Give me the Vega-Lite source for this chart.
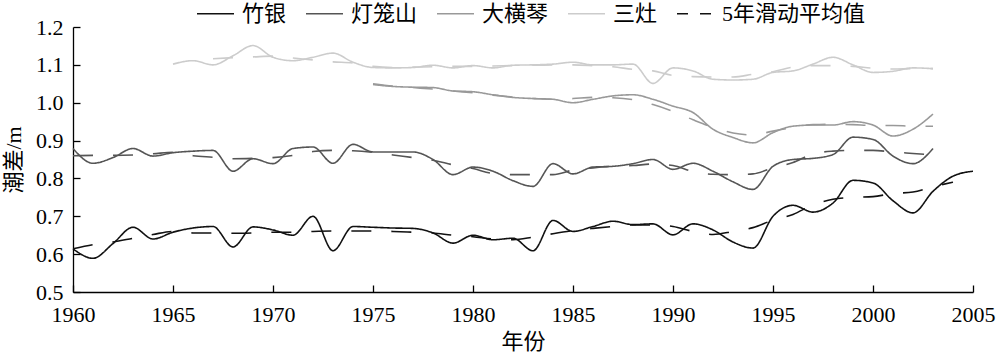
{
  "$schema": "https://vega.github.io/schema/vega-lite/v6.json",
  "width": 900,
  "height": 265,
  "autosize": {"type": "none"},
  "padding": {"left": 73, "top": 27, "right": 27, "bottom": 66},
  "background": "#ffffff",
  "config": {
    "view": {"stroke": null},
    "axis": {
      "domainColor": "#000", "tickColor": "#000", "labelColor": "#000", "titleColor": "#000",
      "labelFont": "Liberation Serif", "labelFontSize": 22,
      "titleFont": "Liberation Serif, Noto Sans CJK SC", "titleFontSize": 22, "titleFontWeight": "normal",
      "grid": false, "tickSize": -7, "domainWidth": 1.3, "tickWidth": 1.3
    }
  },
  "datasets": {
    "d": [
      {"y":1960,"s":"竹银","t":"raw","v":0.614},{"y":1961,"s":"竹银","t":"raw","v":0.589},{"y":1962,"s":"竹银","t":"raw","v":0.628},{"y":1963,"s":"竹银","t":"raw","v":0.671},{"y":1964,"s":"竹银","t":"raw","v":0.64},{"y":1965,"s":"竹银","t":"raw","v":0.658},{"y":1966,"s":"竹银","t":"raw","v":0.669},{"y":1967,"s":"竹银","t":"raw","v":0.673},{"y":1968,"s":"竹银","t":"raw","v":0.619},{"y":1969,"s":"竹银","t":"raw","v":0.672},{"y":1970,"s":"竹银","t":"raw","v":0.664},{"y":1971,"s":"竹银","t":"raw","v":0.65},{"y":1972,"s":"竹银","t":"raw","v":0.70},{"y":1973,"s":"竹银","t":"raw","v":0.609},{"y":1974,"s":"竹银","t":"raw","v":0.673},{"y":1975,"s":"竹银","t":"raw","v":0.671},{"y":1976,"s":"竹银","t":"raw","v":0.669},{"y":1977,"s":"竹银","t":"raw","v":0.668},{"y":1978,"s":"竹银","t":"raw","v":0.656},{"y":1979,"s":"竹银","t":"raw","v":0.629},{"y":1980,"s":"竹银","t":"raw","v":0.65},{"y":1981,"s":"竹银","t":"raw","v":0.638},{"y":1982,"s":"竹银","t":"raw","v":0.642},{"y":1983,"s":"竹银","t":"raw","v":0.609},{"y":1984,"s":"竹银","t":"raw","v":0.689},{"y":1985,"s":"竹银","t":"raw","v":0.66},{"y":1986,"s":"竹银","t":"raw","v":0.673},{"y":1987,"s":"竹银","t":"raw","v":0.687},{"y":1988,"s":"竹银","t":"raw","v":0.678},{"y":1989,"s":"竹银","t":"raw","v":0.68},{"y":1990,"s":"竹银","t":"raw","v":0.651},{"y":1991,"s":"竹银","t":"raw","v":0.68},{"y":1992,"s":"竹银","t":"raw","v":0.664},{"y":1993,"s":"竹银","t":"raw","v":0.632},{"y":1994,"s":"竹银","t":"raw","v":0.616},{"y":1995,"s":"竹银","t":"raw","v":0.70},{"y":1996,"s":"竹银","t":"raw","v":0.729},{"y":1997,"s":"竹银","t":"raw","v":0.711},{"y":1998,"s":"竹银","t":"raw","v":0.735},{"y":1999,"s":"竹银","t":"raw","v":0.795},{"y":2000,"s":"竹银","t":"raw","v":0.788},{"y":2001,"s":"竹银","t":"raw","v":0.741},{"y":2002,"s":"竹银","t":"raw","v":0.709},{"y":2003,"s":"竹银","t":"raw","v":0.766},{"y":2004,"s":"竹银","t":"raw","v":0.806},{"y":2005,"s":"竹银","t":"raw","v":0.819},

      {"y":1960,"s":"灯笼山","t":"raw","v":0.879},{"y":1961,"s":"灯笼山","t":"raw","v":0.84},{"y":1962,"s":"灯笼山","t":"raw","v":0.855},{"y":1963,"s":"灯笼山","t":"raw","v":0.879},{"y":1964,"s":"灯笼山","t":"raw","v":0.859},{"y":1965,"s":"灯笼山","t":"raw","v":0.868},{"y":1966,"s":"灯笼山","t":"raw","v":0.872},{"y":1967,"s":"灯笼山","t":"raw","v":0.874},{"y":1968,"s":"灯笼山","t":"raw","v":0.819},{"y":1969,"s":"灯笼山","t":"raw","v":0.852},{"y":1970,"s":"灯笼山","t":"raw","v":0.839},{"y":1971,"s":"灯笼山","t":"raw","v":0.879},{"y":1972,"s":"灯笼山","t":"raw","v":0.883},{"y":1973,"s":"灯笼山","t":"raw","v":0.84},{"y":1974,"s":"灯笼山","t":"raw","v":0.89},{"y":1975,"s":"灯笼山","t":"raw","v":0.87},{"y":1976,"s":"灯笼山","t":"raw","v":0.87},{"y":1977,"s":"灯笼山","t":"raw","v":0.87},{"y":1978,"s":"灯笼山","t":"raw","v":0.85},{"y":1979,"s":"灯笼山","t":"raw","v":0.81},{"y":1980,"s":"灯笼山","t":"raw","v":0.83},{"y":1981,"s":"灯笼山","t":"raw","v":0.819},{"y":1982,"s":"灯笼山","t":"raw","v":0.794},{"y":1983,"s":"灯笼山","t":"raw","v":0.779},{"y":1984,"s":"灯笼山","t":"raw","v":0.839},{"y":1985,"s":"灯笼山","t":"raw","v":0.812},{"y":1986,"s":"灯笼山","t":"raw","v":0.83},{"y":1987,"s":"灯笼山","t":"raw","v":0.832},{"y":1988,"s":"灯笼山","t":"raw","v":0.839},{"y":1989,"s":"灯笼山","t":"raw","v":0.85},{"y":1990,"s":"灯笼山","t":"raw","v":0.824},{"y":1991,"s":"灯笼山","t":"raw","v":0.84},{"y":1992,"s":"灯笼山","t":"raw","v":0.819},{"y":1993,"s":"灯笼山","t":"raw","v":0.791},{"y":1994,"s":"灯笼山","t":"raw","v":0.771},{"y":1995,"s":"灯笼山","t":"raw","v":0.832},{"y":1996,"s":"灯笼山","t":"raw","v":0.85},{"y":1997,"s":"灯笼山","t":"raw","v":0.853},{"y":1998,"s":"灯笼山","t":"raw","v":0.863},{"y":1999,"s":"灯笼山","t":"raw","v":0.909},{"y":2000,"s":"灯笼山","t":"raw","v":0.903},{"y":2001,"s":"灯笼山","t":"raw","v":0.859},{"y":2002,"s":"灯笼山","t":"raw","v":0.839},{"y":2003,"s":"灯笼山","t":"raw","v":0.879},

      {"y":1975,"s":"大横琴","t":"raw","v":1.048},{"y":1976,"s":"大横琴","t":"raw","v":1.043},{"y":1977,"s":"大横琴","t":"raw","v":1.041},{"y":1978,"s":"大横琴","t":"raw","v":1.04},{"y":1979,"s":"大横琴","t":"raw","v":1.031},{"y":1980,"s":"大横琴","t":"raw","v":1.029},{"y":1981,"s":"大横琴","t":"raw","v":1.021},{"y":1982,"s":"大横琴","t":"raw","v":1.014},{"y":1983,"s":"大横琴","t":"raw","v":1.011},{"y":1984,"s":"大横琴","t":"raw","v":1.009},{"y":1985,"s":"大横琴","t":"raw","v":1.0},{"y":1986,"s":"大横琴","t":"raw","v":1.009},{"y":1987,"s":"大横琴","t":"raw","v":1.018},{"y":1988,"s":"大横琴","t":"raw","v":1.021},{"y":1989,"s":"大横琴","t":"raw","v":1.009},{"y":1990,"s":"大横琴","t":"raw","v":0.991},{"y":1991,"s":"大横琴","t":"raw","v":0.974},{"y":1992,"s":"大横琴","t":"raw","v":0.93},{"y":1993,"s":"大横琴","t":"raw","v":0.908},{"y":1994,"s":"大横琴","t":"raw","v":0.894},{"y":1995,"s":"大横琴","t":"raw","v":0.921},{"y":1996,"s":"大横琴","t":"raw","v":0.938},{"y":1997,"s":"大横琴","t":"raw","v":0.941},{"y":1998,"s":"大横琴","t":"raw","v":0.941},{"y":1999,"s":"大横琴","t":"raw","v":0.95},{"y":2000,"s":"大横琴","t":"raw","v":0.941},{"y":2001,"s":"大横琴","t":"raw","v":0.912},{"y":2002,"s":"大横琴","t":"raw","v":0.93},{"y":2003,"s":"大横琴","t":"raw","v":0.97},

      {"y":1965,"s":"三灶","t":"raw","v":1.102},{"y":1966,"s":"三灶","t":"raw","v":1.111},{"y":1967,"s":"三灶","t":"raw","v":1.10},{"y":1968,"s":"三灶","t":"raw","v":1.124},{"y":1969,"s":"三灶","t":"raw","v":1.151},{"y":1970,"s":"三灶","t":"raw","v":1.12},{"y":1971,"s":"三灶","t":"raw","v":1.111},{"y":1972,"s":"三灶","t":"raw","v":1.12},{"y":1973,"s":"三灶","t":"raw","v":1.131},{"y":1974,"s":"三灶","t":"raw","v":1.107},{"y":1975,"s":"三灶","t":"raw","v":1.093},{"y":1976,"s":"三灶","t":"raw","v":1.092},{"y":1977,"s":"三灶","t":"raw","v":1.093},{"y":1978,"s":"三灶","t":"raw","v":1.099},{"y":1979,"s":"三灶","t":"raw","v":1.092},{"y":1980,"s":"三灶","t":"raw","v":1.098},{"y":1981,"s":"三灶","t":"raw","v":1.092},{"y":1982,"s":"三灶","t":"raw","v":1.099},{"y":1983,"s":"三灶","t":"raw","v":1.10},{"y":1984,"s":"三灶","t":"raw","v":1.102},{"y":1985,"s":"三灶","t":"raw","v":1.107},{"y":1986,"s":"三灶","t":"raw","v":1.10},{"y":1987,"s":"三灶","t":"raw","v":1.10},{"y":1988,"s":"三灶","t":"raw","v":1.102},{"y":1989,"s":"三灶","t":"raw","v":1.051},{"y":1990,"s":"三灶","t":"raw","v":1.092},{"y":1991,"s":"三灶","t":"raw","v":1.084},{"y":1992,"s":"三灶","t":"raw","v":1.062},{"y":1993,"s":"三灶","t":"raw","v":1.06},{"y":1994,"s":"三灶","t":"raw","v":1.062},{"y":1995,"s":"三灶","t":"raw","v":1.08},{"y":1996,"s":"三灶","t":"raw","v":1.084},{"y":1997,"s":"三灶","t":"raw","v":1.102},{"y":1998,"s":"三灶","t":"raw","v":1.12},{"y":1999,"s":"三灶","t":"raw","v":1.10},{"y":2000,"s":"三灶","t":"raw","v":1.08},{"y":2001,"s":"三灶","t":"raw","v":1.083},{"y":2002,"s":"三灶","t":"raw","v":1.092},{"y":2003,"s":"三灶","t":"raw","v":1.09},

      {"y":1960,"s":"竹银","t":"ma","v":0.614},{"y":1961,"s":"竹银","t":"ma","v":0.625},{"y":1962,"s":"竹银","t":"ma","v":0.632},{"y":1963,"s":"竹银","t":"ma","v":0.642},{"y":1964,"s":"竹银","t":"ma","v":0.652},{"y":1965,"s":"竹银","t":"ma","v":0.66},{"y":1966,"s":"竹银","t":"ma","v":0.656},{"y":1967,"s":"竹银","t":"ma","v":0.656},{"y":1968,"s":"竹银","t":"ma","v":0.655},{"y":1969,"s":"竹银","t":"ma","v":0.656},{"y":1970,"s":"竹银","t":"ma","v":0.658},{"y":1971,"s":"竹银","t":"ma","v":0.658},{"y":1972,"s":"竹银","t":"ma","v":0.66},{"y":1973,"s":"竹银","t":"ma","v":0.661},{"y":1974,"s":"竹银","t":"ma","v":0.661},{"y":1975,"s":"竹银","t":"ma","v":0.661},{"y":1976,"s":"竹银","t":"ma","v":0.66},{"y":1977,"s":"竹银","t":"ma","v":0.658},{"y":1978,"s":"竹银","t":"ma","v":0.656},{"y":1979,"s":"竹银","t":"ma","v":0.65},{"y":1980,"s":"竹银","t":"ma","v":0.646},{"y":1981,"s":"竹银","t":"ma","v":0.64},{"y":1982,"s":"竹银","t":"ma","v":0.638},{"y":1983,"s":"竹银","t":"ma","v":0.645},{"y":1984,"s":"竹银","t":"ma","v":0.654},{"y":1985,"s":"竹银","t":"ma","v":0.662},{"y":1986,"s":"竹银","t":"ma","v":0.668},{"y":1987,"s":"竹银","t":"ma","v":0.673},{"y":1988,"s":"竹银","t":"ma","v":0.677},{"y":1989,"s":"竹银","t":"ma","v":0.677},{"y":1990,"s":"竹银","t":"ma","v":0.673},{"y":1991,"s":"竹银","t":"ma","v":0.66},{"y":1992,"s":"竹银","t":"ma","v":0.652},{"y":1993,"s":"竹银","t":"ma","v":0.66},{"y":1994,"s":"竹银","t":"ma","v":0.67},{"y":1995,"s":"竹银","t":"ma","v":0.69},{"y":1996,"s":"竹银","t":"ma","v":0.705},{"y":1997,"s":"竹银","t":"ma","v":0.73},{"y":1998,"s":"竹银","t":"ma","v":0.745},{"y":1999,"s":"竹银","t":"ma","v":0.75},{"y":2000,"s":"竹银","t":"ma","v":0.752},{"y":2001,"s":"竹银","t":"ma","v":0.76},{"y":2002,"s":"竹银","t":"ma","v":0.764},{"y":2003,"s":"竹银","t":"ma","v":0.778},{"y":2004,"s":"竹银","t":"ma","v":0.79},

      {"y":1960,"s":"灯笼山","t":"ma","v":0.86},{"y":1961,"s":"灯笼山","t":"ma","v":0.861},{"y":1962,"s":"灯笼山","t":"ma","v":0.861},{"y":1963,"s":"灯笼山","t":"ma","v":0.862},{"y":1964,"s":"灯笼山","t":"ma","v":0.865},{"y":1965,"s":"灯笼山","t":"ma","v":0.869},{"y":1966,"s":"灯笼山","t":"ma","v":0.86},{"y":1967,"s":"灯笼山","t":"ma","v":0.856},{"y":1968,"s":"灯笼山","t":"ma","v":0.852},{"y":1969,"s":"灯笼山","t":"ma","v":0.853},{"y":1970,"s":"灯笼山","t":"ma","v":0.855},{"y":1971,"s":"灯笼山","t":"ma","v":0.861},{"y":1972,"s":"灯笼山","t":"ma","v":0.871},{"y":1973,"s":"灯笼山","t":"ma","v":0.874},{"y":1974,"s":"灯笼山","t":"ma","v":0.873},{"y":1975,"s":"灯笼山","t":"ma","v":0.869},{"y":1976,"s":"灯笼山","t":"ma","v":0.862},{"y":1977,"s":"灯笼山","t":"ma","v":0.855},{"y":1978,"s":"灯笼山","t":"ma","v":0.848},{"y":1979,"s":"灯笼山","t":"ma","v":0.836},{"y":1980,"s":"灯笼山","t":"ma","v":0.826},{"y":1981,"s":"灯笼山","t":"ma","v":0.813},{"y":1982,"s":"灯笼山","t":"ma","v":0.81},{"y":1983,"s":"灯笼山","t":"ma","v":0.81},{"y":1984,"s":"灯笼山","t":"ma","v":0.81},{"y":1985,"s":"灯笼山","t":"ma","v":0.822},{"y":1986,"s":"灯笼山","t":"ma","v":0.828},{"y":1987,"s":"灯笼山","t":"ma","v":0.832},{"y":1988,"s":"灯笼山","t":"ma","v":0.834},{"y":1989,"s":"灯笼山","t":"ma","v":0.838},{"y":1990,"s":"灯笼山","t":"ma","v":0.834},{"y":1991,"s":"灯笼山","t":"ma","v":0.818},{"y":1992,"s":"灯笼山","t":"ma","v":0.811},{"y":1993,"s":"灯笼山","t":"ma","v":0.81},{"y":1994,"s":"灯笼山","t":"ma","v":0.812},{"y":1995,"s":"灯笼山","t":"ma","v":0.828},{"y":1996,"s":"灯笼山","t":"ma","v":0.842},{"y":1997,"s":"灯笼山","t":"ma","v":0.865},{"y":1998,"s":"灯笼山","t":"ma","v":0.872},{"y":1999,"s":"灯笼山","t":"ma","v":0.874},{"y":2000,"s":"灯笼山","t":"ma","v":0.874},{"y":2001,"s":"灯笼山","t":"ma","v":0.87},{"y":2002,"s":"灯笼山","t":"ma","v":0.866},{"y":2003,"s":"灯笼山","t":"ma","v":0.862},

      {"y":1975,"s":"大横琴","t":"ma","v":1.05},{"y":1976,"s":"大横琴","t":"ma","v":1.044},{"y":1977,"s":"大横琴","t":"ma","v":1.04},{"y":1978,"s":"大横琴","t":"ma","v":1.036},{"y":1979,"s":"大横琴","t":"ma","v":1.031},{"y":1980,"s":"大横琴","t":"ma","v":1.026},{"y":1981,"s":"大横琴","t":"ma","v":1.02},{"y":1982,"s":"大横琴","t":"ma","v":1.015},{"y":1983,"s":"大横琴","t":"ma","v":1.011},{"y":1984,"s":"大横琴","t":"ma","v":1.009},{"y":1985,"s":"大横琴","t":"ma","v":1.011},{"y":1986,"s":"大横琴","t":"ma","v":1.014},{"y":1987,"s":"大横琴","t":"ma","v":1.013},{"y":1988,"s":"大横琴","t":"ma","v":1.008},{"y":1989,"s":"大横琴","t":"ma","v":0.995},{"y":1990,"s":"大横琴","t":"ma","v":0.977},{"y":1991,"s":"大横琴","t":"ma","v":0.955},{"y":1992,"s":"大横琴","t":"ma","v":0.935},{"y":1993,"s":"大横琴","t":"ma","v":0.92},{"y":1994,"s":"大横琴","t":"ma","v":0.915},{"y":1995,"s":"大横琴","t":"ma","v":0.925},{"y":1996,"s":"大横琴","t":"ma","v":0.935},{"y":1997,"s":"大横琴","t":"ma","v":0.942},{"y":1998,"s":"大横琴","t":"ma","v":0.943},{"y":1999,"s":"大横琴","t":"ma","v":0.942},{"y":2000,"s":"大横琴","t":"ma","v":0.94},{"y":2001,"s":"大横琴","t":"ma","v":0.94},{"y":2002,"s":"大横琴","t":"ma","v":0.938},{"y":2003,"s":"大横琴","t":"ma","v":0.938},

      {"y":1967,"s":"三灶","t":"ma","v":1.116},{"y":1968,"s":"三灶","t":"ma","v":1.119},{"y":1969,"s":"三灶","t":"ma","v":1.121},{"y":1970,"s":"三灶","t":"ma","v":1.123},{"y":1971,"s":"三灶","t":"ma","v":1.118},{"y":1972,"s":"三灶","t":"ma","v":1.113},{"y":1973,"s":"三灶","t":"ma","v":1.108},{"y":1974,"s":"三灶","t":"ma","v":1.105},{"y":1975,"s":"三灶","t":"ma","v":1.096},{"y":1976,"s":"三灶","t":"ma","v":1.093},{"y":1977,"s":"三灶","t":"ma","v":1.094},{"y":1978,"s":"三灶","t":"ma","v":1.095},{"y":1979,"s":"三灶","t":"ma","v":1.096},{"y":1980,"s":"三灶","t":"ma","v":1.096},{"y":1981,"s":"三灶","t":"ma","v":1.097},{"y":1982,"s":"三灶","t":"ma","v":1.098},{"y":1983,"s":"三灶","t":"ma","v":1.099},{"y":1984,"s":"三灶","t":"ma","v":1.10},{"y":1985,"s":"三灶","t":"ma","v":1.10},{"y":1986,"s":"三灶","t":"ma","v":1.098},{"y":1987,"s":"三灶","t":"ma","v":1.095},{"y":1988,"s":"三灶","t":"ma","v":1.088},{"y":1989,"s":"三灶","t":"ma","v":1.084},{"y":1990,"s":"三灶","t":"ma","v":1.072},{"y":1991,"s":"三灶","t":"ma","v":1.069},{"y":1992,"s":"三灶","t":"ma","v":1.068},{"y":1993,"s":"三灶","t":"ma","v":1.068},{"y":1994,"s":"三灶","t":"ma","v":1.075},{"y":1995,"s":"三灶","t":"ma","v":1.082},{"y":1996,"s":"三灶","t":"ma","v":1.094},{"y":1997,"s":"三灶","t":"ma","v":1.098},{"y":1998,"s":"三灶","t":"ma","v":1.098},{"y":1999,"s":"三灶","t":"ma","v":1.096},{"y":2000,"s":"三灶","t":"ma","v":1.091},{"y":2001,"s":"三灶","t":"ma","v":1.089},{"y":2002,"s":"三灶","t":"ma","v":1.09},{"y":2003,"s":"三灶","t":"ma","v":1.09}
    ]
  },
  "data": {"name": "d"},
  "encoding": {
    "x": {
      "field": "y", "type": "quantitative",
      "scale": {"domain": [1960, 2005], "nice": false, "zero": false},
      "axis": {"title": "年份", "values": [1960, 1965, 1970, 1975, 1980, 1985, 1990, 1995, 2000, 2005], "format": "d", "labelFlush": false, "labelOverlap": false, "labelPadding": 19, "titlePadding": 6}
    },
    "y": {
      "field": "v", "type": "quantitative",
      "scale": {"domain": [0.5, 1.2], "nice": false, "zero": false},
      "axis": {"title": "潮差/m", "values": [0.5, 0.6, 0.7, 0.8, 0.9, 1.0, 1.1, 1.2], "format": ".1f", "labelPadding": 17, "titlePadding": 10, "labelOverlap": false}
    }
  },
  "layer": [
    {
      "transform": [{"filter": "datum.t === 'raw'"}],
      "mark": {"type": "line", "interpolate": "monotone", "strokeWidth": 1.6},
      "encoding": {
        "color": {
          "field": "s", "type": "nominal",
          "scale": {"domain": ["竹银", "灯笼山", "大横琴", "三灶", "5年滑动平均值"], "range": ["#111111", "#555555", "#999999", "#cccccc", "#111111"]},
          "legend": {
            "orient": "none", "legendX": 123, "legendY": -33, "direction": "horizontal", "title": null,
            "labelFontSize": 22, "labelFont": "Liberation Serif, Noto Sans CJK SC", "labelColor": "#000",
            "symbolType": "stroke", "symbolSize": 1369, "symbolStrokeWidth": 1.6, "labelOffset": 7, "columnPadding": 15, "padding": 0
          }
        },
        "strokeDash": {
          "field": "s", "type": "nominal",
          "scale": {"domain": ["竹银", "灯笼山", "大横琴", "三灶", "5年滑动平均值"], "range": [[1, 0], [1, 0], [1, 0], [1, 0], [11, 12]]},
          "legend": {
            "orient": "none", "legendX": 123, "legendY": -33, "direction": "horizontal", "title": null,
            "labelFontSize": 22, "labelFont": "Liberation Serif, Noto Sans CJK SC", "labelColor": "#000",
            "symbolType": "stroke", "symbolSize": 1369, "symbolStrokeWidth": 1.6, "labelOffset": 7, "columnPadding": 15, "padding": 0
          }
        }
      }
    },
    {
      "transform": [{"filter": "datum.t === 'ma'"}],
      "mark": {"type": "line", "interpolate": "monotone", "strokeWidth": 1.6, "strokeDash": [20, 20]},
      "encoding": {
        "color": {"field": "s", "type": "nominal"}
      }
    }
  ]
}
